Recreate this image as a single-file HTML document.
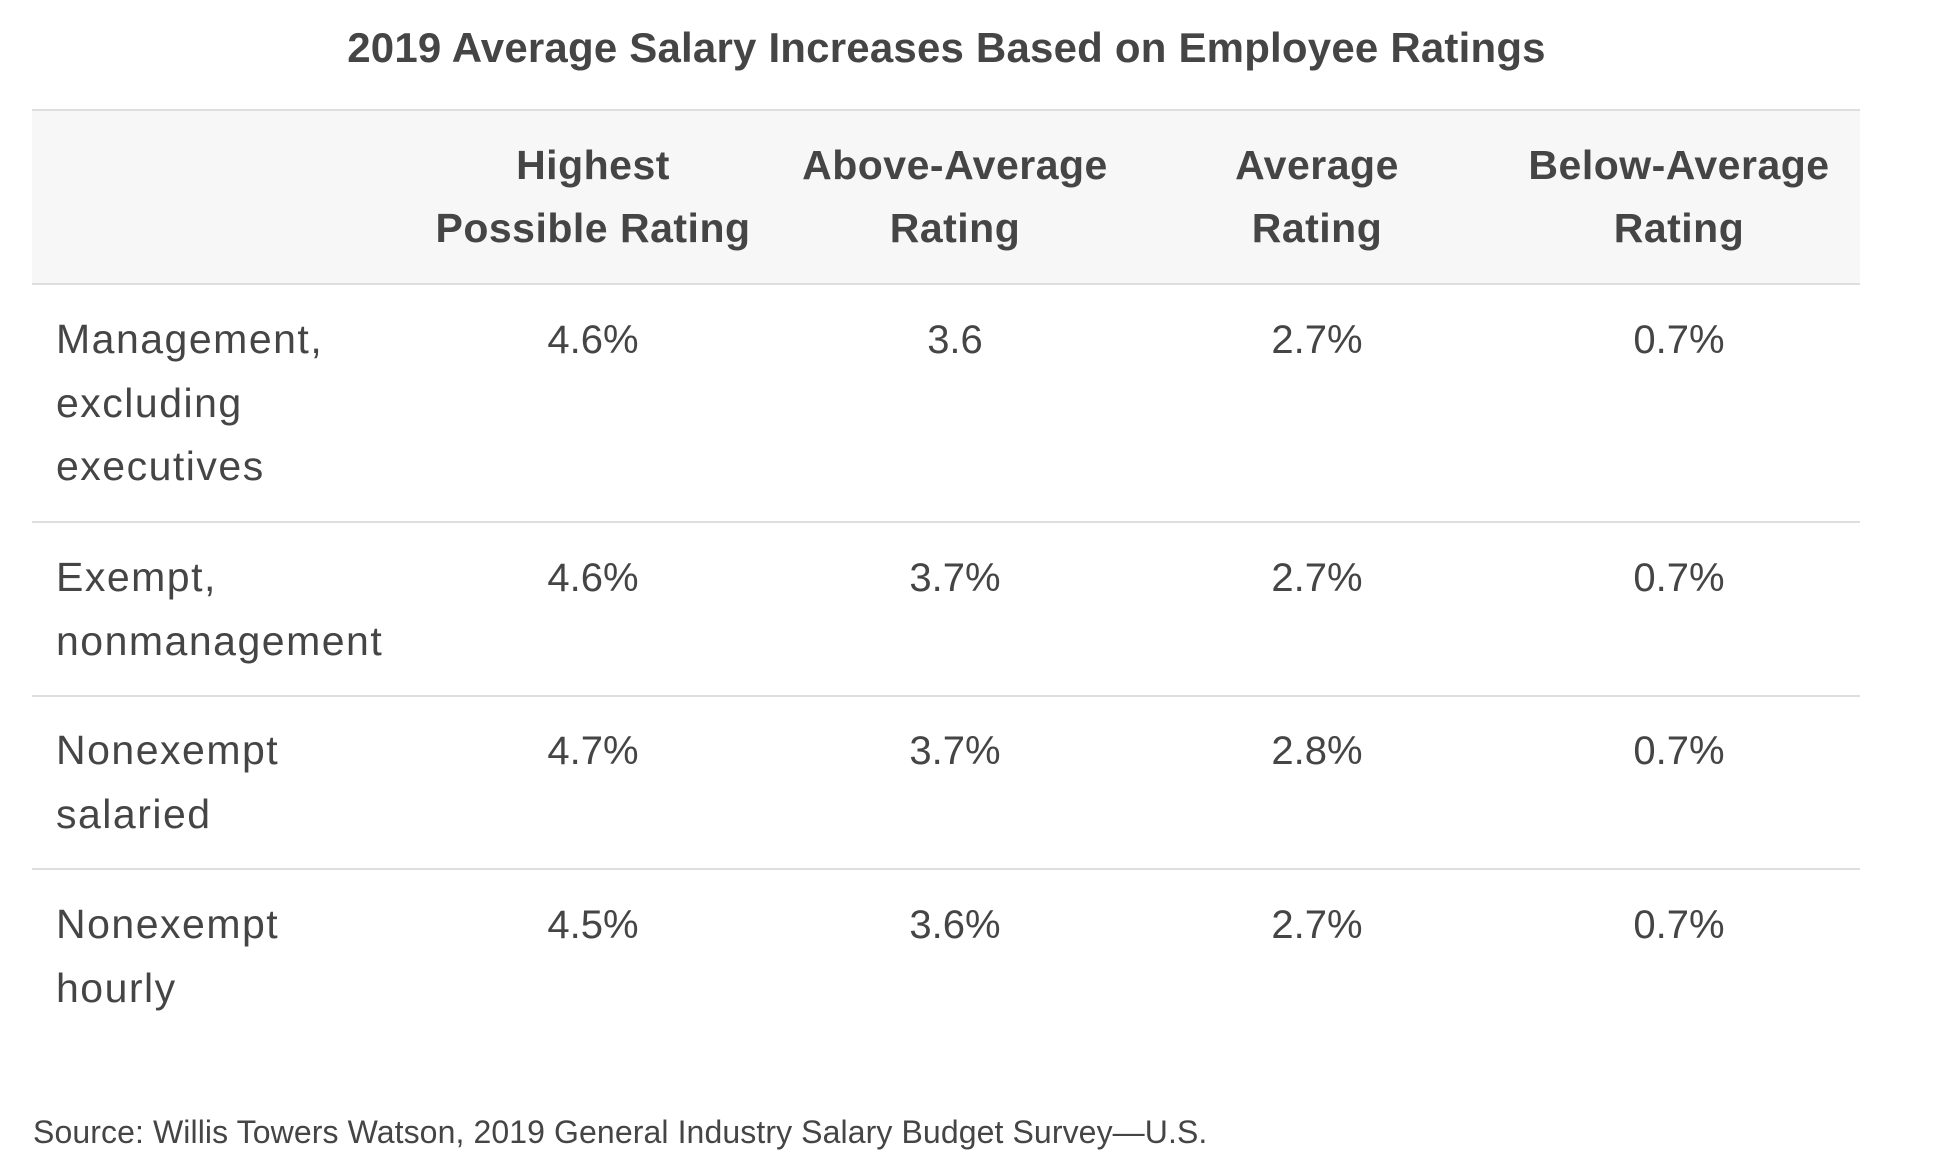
<!DOCTYPE html>
<html>
<head>
<meta charset="utf-8">
<style>
  html, body { margin: 0; padding: 0; }
  body {
    width: 1946px; height: 1173px; background: #ffffff; position: relative; overflow: hidden;
    font-family: "Liberation Sans", Arial, sans-serif; color: #454545;
  }
  .abs { position: absolute; white-space: nowrap; }
  .title { left: 0; width: 1893px; top: 24px; text-align: center; font-size: 42px; line-height: 48px; font-weight: bold; letter-spacing: 0.2px; }
  .hdrbg { left: 32px; top: 109px; width: 1828px; height: 174px; background: #f7f7f7; border-top: 2px solid #dedede; border-bottom: 2px solid #dedede; box-sizing: border-box; height: 176px; }
  .line { left: 32px; width: 1828px; height: 2px; background: #dedede; }
  .hd { font-size: 41px; font-weight: bold; line-height: 63px; text-align: center; width: 362px; top: 134px; letter-spacing: 0.5px; }
  .lab { left: 56px; font-size: 41px; line-height: 63.5px; letter-spacing: 1.5px; }
  .num { font-size: 40px; line-height: 64px; text-align: center; width: 362px; }
  .c1 { left: 412px; } .c2 { left: 774px; } .c3 { left: 1136px; } .c4 { left: 1498px; }
  .src { left: 33px; top: 1112px; font-size: 32px; line-height: 40px; letter-spacing: 0.1px; }
</style>
</head>
<body>
  <div class="abs title">2019 Average Salary Increases Based on Employee Ratings</div>

  <div class="abs hdrbg"></div>
  <div class="abs hd c1">Highest<br>Possible Rating</div>
  <div class="abs hd c2">Above-Average<br>Rating</div>
  <div class="abs hd c3">Average<br>Rating</div>
  <div class="abs hd c4">Below-Average<br>Rating</div>

  <!-- Row 1 -->
  <div class="abs lab" style="top:308px;">Management,<br>excluding<br>executives</div>
  <div class="abs num c1" style="top:308px;">4.6%</div>
  <div class="abs num c2" style="top:308px;">3.6</div>
  <div class="abs num c3" style="top:308px;">2.7%</div>
  <div class="abs num c4" style="top:308px;">0.7%</div>
  <div class="abs line" style="top:521px;"></div>

  <!-- Row 2 -->
  <div class="abs lab" style="top:546px;">Exempt,<br>nonmanagement</div>
  <div class="abs num c1" style="top:546px;">4.6%</div>
  <div class="abs num c2" style="top:546px;">3.7%</div>
  <div class="abs num c3" style="top:546px;">2.7%</div>
  <div class="abs num c4" style="top:546px;">0.7%</div>
  <div class="abs line" style="top:695px;"></div>

  <!-- Row 3 -->
  <div class="abs lab" style="top:719px;">Nonexempt<br>salaried</div>
  <div class="abs num c1" style="top:719px;">4.7%</div>
  <div class="abs num c2" style="top:719px;">3.7%</div>
  <div class="abs num c3" style="top:719px;">2.8%</div>
  <div class="abs num c4" style="top:719px;">0.7%</div>
  <div class="abs line" style="top:868px;"></div>

  <!-- Row 4 -->
  <div class="abs lab" style="top:893px;">Nonexempt<br>hourly</div>
  <div class="abs num c1" style="top:893px;">4.5%</div>
  <div class="abs num c2" style="top:893px;">3.6%</div>
  <div class="abs num c3" style="top:893px;">2.7%</div>
  <div class="abs num c4" style="top:893px;">0.7%</div>

  <div class="abs src">Source: Willis Towers Watson, 2019 General Industry Salary Budget Survey—U.S.</div>
</body>
</html>
